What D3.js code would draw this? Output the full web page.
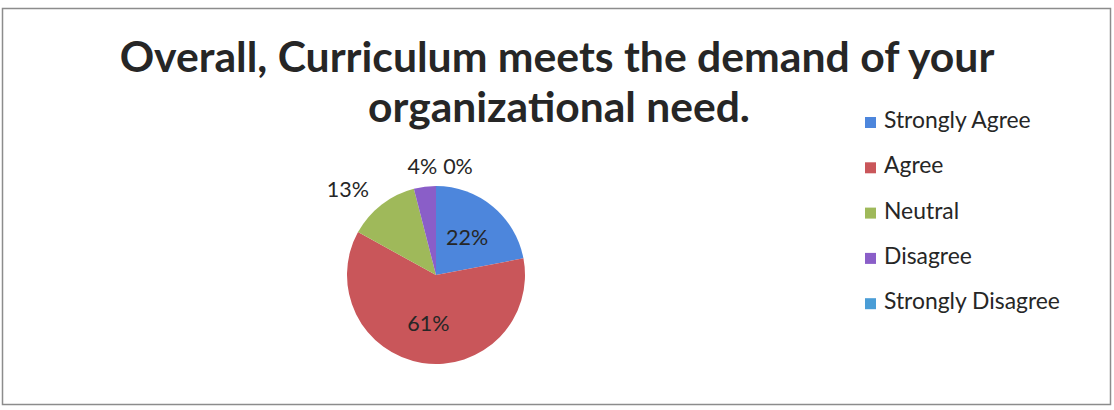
<!DOCTYPE html>
<html>
<head>
<meta charset="utf-8">
<script src="https://cdn.jsdelivr.net/npm/d3@7"></script>
<style>
  html, body { margin: 0; padding: 0; background: #fff; }
  svg { display: block; }
  text { font-family: Lato, "Open Sans", sans-serif; fill: #262626; }
</style>
</head>
<body>
<svg id="chart" width="1114" height="410"></svg>
<script>
// data
var categories = ["Strongly Agree", "Agree", "Neutral", "Disagree", "Strongly Disagree"];
var values = [22, 61, 13, 4, 0];
var colors = ["#4d86dc", "#c9565a", "#9fb95a", "#8a5ec8", "#4a9dd6"];
var titleLines = ["Overall, Curriculum meets the demand of your", "organizational need."];

var svg = d3.select("#chart");

// frame
svg.append("rect")
    .attr("x", 2.5).attr("y", 8.5)
    .attr("width", 1108).attr("height", 396)
    .attr("fill", "#fff")
    .attr("stroke", "#8c8c8c")
    .attr("stroke-width", 1.5);

// fit a text element to a given width by changing its font size
function fitWidth(sel, w) {
    var len = sel.node().getComputedTextLength();
    var fs = parseFloat(sel.attr("font-size"));
    sel.attr("font-size", fs * w / len);
}

// title
var title = svg.append("g");
title.append("text")
    .attr("x", 557).attr("y", 72)
    .attr("text-anchor", "middle")
    .attr("font-weight", "bold")
    .attr("font-size", 38)
    .text(titleLines[0])
    .call(fitWidth, 875);
title.append("text")
    .attr("x", 559).attr("y", 122)
    .attr("text-anchor", "middle")
    .attr("font-weight", "bold")
    .attr("font-size", 38)
    .text(titleLines[1])
    .call(fitWidth, 382);

// pie
var cx = 436, cy = 275, r = 89;
var pie = d3.pie().sort(null).value(function(d) { return d; });
var arcs = pie(values);
var arc = d3.arc().innerRadius(0).outerRadius(r);

var g = svg.append("g").attr("transform", "translate(" + cx + "," + cy + ")");

g.selectAll("path")
    .data(arcs)
    .join("path")
    .attr("d", arc)
    .attr("fill", function(d, i) { return colors[i]; });

var pct = d3.format(".0%");
var total = d3.sum(values);

// labels: big slices inside, small ones outside
var labelFont = 21.5;
var placed = [];
arcs.forEach(function(d, i) {
    var share = d.value / total;
    var mid = (d.startAngle + d.endAngle) / 2;
    var t = g.append("text")
        .attr("font-size", labelFont)
        .attr("dominant-baseline", "central")
        .text(pct(share));
    if (share > 0.2) {
        var rr = r * 0.55;
        t.attr("x", Math.sin(mid) * rr)
         .attr("y", -Math.cos(mid) * rr)
         .attr("text-anchor", "middle");
    } else {
        var R = r * 1.23;
        var x = Math.sin(mid) * R, y = -Math.cos(mid) * R;
        var w = t.node().getComputedTextLength();
        var left;
        if (Math.abs(Math.sin(mid)) < 0.3) left = x - w / 2;
        else if (Math.sin(mid) < 0) left = x - w;
        else left = x;
        // push right if it collides with an earlier outside label
        placed.forEach(function(p) {
            if (Math.abs(p.y - y) < labelFont && left < p.right + 6 && left + w > p.left) {
                left = p.right + 6;
            }
        });
        placed.push({ left: left, right: left + w, y: y });
        t.attr("x", left).attr("y", y).attr("text-anchor", "start");
    }
});

// legend
var legend = svg.append("g").attr("transform", "translate(865,117)");
var rowH = 45.3;
var rows = legend.selectAll("g")
    .data(categories)
    .join("g")
    .attr("transform", function(d, i) { return "translate(0," + (i * rowH) + ")"; });
rows.append("rect")
    .attr("width", 11).attr("height", 11)
    .attr("fill", function(d, i) { return colors[i]; });
var legendText = rows.append("text")
    .attr("x", 19).attr("y", 11)
    .attr("font-size", 20)
    .text(function(d) { return d; });

// size legend font so the longest entry matches the picture
var longest = d3.max(legendText.nodes(), function(n) { return n.getComputedTextLength(); });
legendText.attr("font-size", 20 * 176 / longest);
</script>
</body>
</html>
